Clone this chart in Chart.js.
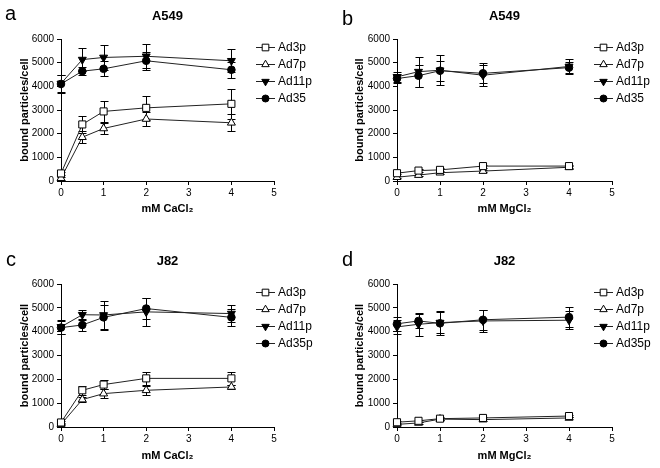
<!DOCTYPE html>
<html>
<head>
<meta charset="utf-8">
<script src="https://cdn.jsdelivr.net/npm/chart.js@4.4.1/dist/chart.umd.min.js"></script>
<style>
  body { margin: 0; background: #fff; width: 660px; height: 468px; position: relative; overflow: hidden;
         font-family: "Liberation Sans", Arial, sans-serif; }
  .panel { position: absolute; width: 330px; height: 234px; }
  .letter { position: absolute; font-size: 20px; line-height: 20px; color: #000; }
</style>
</head>
<body>
<div class="panel" style="left:0;top:0"><canvas id="chartA" width="330" height="234"></canvas></div>
<div class="panel" style="left:330px;top:0"><canvas id="chartB" width="330" height="234"></canvas></div>
<div class="panel" style="left:0;top:234px"><canvas id="chartC" width="330" height="234"></canvas></div>
<div class="panel" style="left:330px;top:234px"><canvas id="chartD" width="330" height="234"></canvas></div>
<div class="letter" style="left:5px;top:3px">a</div>
<div class="letter" style="left:342px;top:8px">b</div>
<div class="letter" style="left:6px;top:249px">c</div>
<div class="letter" style="left:342px;top:249px">d</div>

<script>
// x values (mM) and axis ticks
const doses = [0, 0.5, 1, 2, 4];
const xTicks = [0, 1, 2, 3, 4, 5];
const yTicks = [0, 1000, 2000, 3000, 4000, 5000, 6000];

// a: A549, CaCl2
const aAd3p = [320, 2390, 2940, 3090, 3260];
const aAd3pErr = [80, 360, 440, 510, 620];
const aAd7p = [120, 1850, 2220, 2620, 2460];
const aAd7pErr = [60, 250, 250, 300, 350];
const aAd11p = [4120, 5130, 5220, 5270, 5080];
const aAd11pErr = [380, 480, 530, 500, 490];
const aAd35 = [4100, 4640, 4740, 5080, 4700];
const aAd35Err = [400, 160, 310, 390, 340];

// b: A549, MgCl2
const bAd3p = [330, 440, 470, 630, 630];
const bAd3pErr = [50, 60, 60, 60, 60];
const bAd7p = [160, 250, 350, 420, 580];
const bAd7pErr = [40, 50, 50, 60, 60];
const bAd11p = [4400, 4620, 4680, 4470, 4840];
const bAd11pErr = [200, 630, 640, 450, 300];
const bAd35 = [4330, 4450, 4660, 4550, 4790];
const bAd35Err = [200, 470, 420, 420, 240];

// c: J82, CaCl2
const cAd3p = [190, 1540, 1780, 2040, 2040];
const cAd3pErr = [60, 180, 190, 280, 260];
const cAd7p = [110, 1150, 1400, 1540, 1680];
const cAd7pErr = [40, 100, 200, 200, 100];
const cAd11p = [4200, 4710, 4700, 4830, 4760];
const cAd11pErr = [300, 220, 590, 600, 340];
const cAd35p = [4170, 4280, 4600, 4970, 4600];
const cAd35pErr = [280, 250, 520, 430, 360];

// d: J82, MgCl2
const dAd3p = [200, 260, 350, 380, 460];
const dAd3pErr = [40, 50, 50, 50, 60];
const dAd7p = [110, 170, 330, 310, 380];
const dAd7pErr = [30, 40, 40, 40, 50];
const dAd11p = [4200, 4310, 4380, 4450, 4480];
const dAd11pErr = [300, 480, 450, 480, 380];
const dAd35p = [4330, 4450, 4350, 4500, 4610];
const dAd35pErr = [300, 280, 500, 420, 430];

const labelsAB = ['Ad3p', 'Ad7p', 'Ad11p', 'Ad35'];
const labelsCD = ['Ad3p', 'Ad7p', 'Ad11p', 'Ad35p'];

const markerStyle = ['rect', 'triangle', 'triangle', 'circle'];
const markerRotation = [0, 0, 180, 0];
const markerRadius = [5, 4.6, 4.6, 3.8];
const markerFill = ['#fff', '#fff', '#000', '#000'];

const FONT = '"Liberation Sans", Arial, sans-serif';
Chart.defaults.font.family = FONT;
Chart.defaults.color = '#000';

// error bars drawn under the lines/markers
const errorBars = {
  id: 'errorBars',
  beforeDatasetsDraw(chart) {
    const ctx = chart.ctx, xs = chart.scales.x, ys = chart.scales.y;
    ctx.save();
    ctx.strokeStyle = '#000';
    ctx.lineWidth = 1;
    chart.data.datasets.forEach(ds => {
      ds.data.forEach((p, j) => {
        const e = ds.errs[j];
        const px = Math.round(xs.getPixelForValue(p.x)) + 0.5;
        const top = Math.round(ys.getPixelForValue(p.y + e)) + 0.5;
        const bot = Math.round(ys.getPixelForValue(Math.max(0, p.y - e))) + 0.5;
        ctx.beginPath();
        ctx.moveTo(px, top); ctx.lineTo(px, bot);
        ctx.moveTo(px - 4, top); ctx.lineTo(px + 4, top);
        ctx.moveTo(px - 4, bot); ctx.lineTo(px + 4, bot);
        ctx.stroke();
      });
    });
    ctx.restore();
  }
};

// legend: line - marker - line, then label
const sideLegend = {
  id: 'sideLegend',
  afterDraw(chart) {
    const ctx = chart.ctx, area = chart.chartArea;
    chart.data.datasets.forEach((ds, i) => {
      const y = Math.round(area.top + 8 + i * 17) + 0.5;
      const x0 = Math.round(area.right - 18);
      ctx.save();
      ctx.strokeStyle = '#222';
      ctx.lineWidth = 1;
      ctx.beginPath();
      ctx.moveTo(x0, y); ctx.lineTo(x0 + 19, y);
      ctx.stroke();
      ctx.fillStyle = ds.pointBackgroundColor;
      ctx.strokeStyle = '#000';
      Chart.helpers.drawPoint(ctx, {
        pointStyle: ds.pointStyle, rotation: ds.pointRotation,
        radius: ds.pointRadius - 0.3, borderWidth: 1
      }, x0 + 9.5, y);
      ctx.fillStyle = '#000';
      ctx.font = '12px ' + FONT;
      ctx.textAlign = 'left';
      ctx.textBaseline = 'middle';
      ctx.fillText(ds.label, area.right + 4, y + 0.5);
      ctx.restore();
    });
  }
};

function makePanel(id, cfg) {
  const datasets = cfg.series.map((vals, i) => ({
    label: cfg.labels[i],
    data: doses.map((d, j) => ({ x: d, y: vals[j] })),
    errs: cfg.errs[i],
    borderColor: '#222',
    borderWidth: 1,
    tension: 0,
    pointStyle: markerStyle[i],
    pointRotation: markerRotation[i],
    pointRadius: markerRadius[i],
    pointBackgroundColor: markerFill[i],
    pointBorderColor: '#000',
    pointBorderWidth: 1,
    clip: false
  }));

  const tickGrid = { display: true, drawOnChartArea: false, drawTicks: true, tickLength: 4, color: '#000', lineWidth: 1 };

  return new Chart(document.getElementById(id), {
    type: 'line',
    data: { datasets },
    options: {
      responsive: false,
      animation: false,
      layout: { padding: { left: 0, top: 0, right: 330 - cfg.right, bottom: 0 } },
      plugins: {
        legend: { display: false },
        tooltip: { enabled: false },
        title: {
          display: true,
          text: cfg.title,
          fullSize: false,
          color: '#000',
          font: { size: 13, weight: 'bold' },
          padding: { top: cfg.titleY - 7.8, bottom: cfg.top - cfg.titleY - 7.8 }
        }
      },
      scales: {
        x: {
          type: 'linear',
          min: 0, max: 5,
          afterBuildTicks: s => { s.ticks = xTicks.map(v => ({ value: v })); },
          afterFit: s => { s.height = 234 - cfg.bottom; },
          grid: tickGrid,
          border: { display: true, color: '#000', width: 1 },
          ticks: { color: '#000', font: { size: 10 }, padding: 2, maxRotation: 0, callback: v => String(v) },
          title: {
            display: true, text: cfg.xTitle, color: '#000',
            font: { size: 11, weight: 'bold' },
            padding: { top: 0, bottom: 234 - cfg.xTitleY - 6.6 }
          }
        },
        y: {
          min: 0, max: 6000,
          afterBuildTicks: s => { s.ticks = yTicks.map(v => ({ value: v })); },
          afterFit: s => { s.width = cfg.left; },
          grid: tickGrid,
          border: { display: true, color: '#000', width: 1 },
          ticks: { color: '#000', font: { size: 10 }, padding: 3, callback: v => String(v) },
          title: {
            display: true, text: 'bound particles/cell', color: '#000',
            font: { size: 11, weight: 'bold' },
            padding: { top: cfg.yTitleX - 6.6, bottom: 0 }
          }
        }
      }
    },
    plugins: [errorBars, sideLegend]
  });
}

makePanel('chartA', {
  title: 'A549', xTitle: 'mM CaCl\u2082', labels: labelsAB,
  series: [aAd3p, aAd7p, aAd11p, aAd35],
  errs: [aAd3pErr, aAd7pErr, aAd11pErr, aAd35Err],
  left: 61, right: 274, top: 39, bottom: 181, titleY: 16, xTitleY: 209, yTitleX: 25
});
makePanel('chartB', {
  title: 'A549', xTitle: 'mM MgCl\u2082', labels: labelsAB,
  series: [bAd3p, bAd7p, bAd11p, bAd35],
  errs: [bAd3pErr, bAd7pErr, bAd11pErr, bAd35Err],
  left: 67, right: 282, top: 39, bottom: 181, titleY: 16, xTitleY: 209, yTitleX: 30
});
makePanel('chartC', {
  title: 'J82', xTitle: 'mM CaCl\u2082', labels: labelsCD,
  series: [cAd3p, cAd7p, cAd11p, cAd35p],
  errs: [cAd3pErr, cAd7pErr, cAd11pErr, cAd35pErr],
  left: 61, right: 274, top: 50, bottom: 193, titleY: 27, xTitleY: 222, yTitleX: 25
});
makePanel('chartD', {
  title: 'J82', xTitle: 'mM MgCl\u2082', labels: labelsCD,
  series: [dAd3p, dAd7p, dAd11p, dAd35p],
  errs: [dAd3pErr, dAd7pErr, dAd11pErr, dAd35pErr],
  left: 67, right: 282, top: 50, bottom: 193, titleY: 27, xTitleY: 222, yTitleX: 30
});
</script>
</body>
</html>
